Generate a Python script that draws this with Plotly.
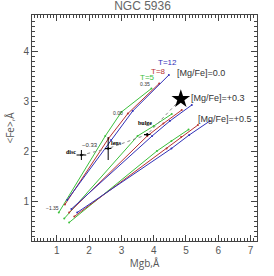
import plotly.graph_objects as go

# model grids: [Mg/Fe] groups x ages, points at [Z/H] = -1.35, -0.33, 0.00, 0.35
ages = ["T=5", "T=8", "T=12"]
age_colors = ["#3cc03c", "#b83030", "#3030b8"]

mgfe00_mgb = [[1.06, 2.50, 3.00, 3.93], [1.25, 2.60, 3.20, 4.17], [1.32, 2.68, 3.35, 4.47]]
mgfe00_fe = [[0.77, 2.30, 2.78, 3.25], [0.93, 2.25, 2.75, 3.35], [1.02, 2.22, 2.80, 3.52]]

mgfe03_mgb = [[1.23, 3.50, 4.00, 4.56], [1.38, 3.80, 4.30, 4.87], [1.45, 3.95, 4.50, 5.18]]
mgfe03_fe = [[0.65, 2.30, 2.50, 2.74], [0.77, 2.30, 2.55, 2.82], [0.84, 2.30, 2.60, 2.92]]

mgfe05_mgb = [[1.38, 4.10, 4.55, 5.08], [1.54, 4.40, 4.85, 5.37], [1.63, 4.55, 5.10, 5.74]]
mgfe05_fe = [[0.57, 2.00, 2.20, 2.43], [0.69, 2.05, 2.28, 2.52], [0.77, 2.05, 2.32, 2.60]]

# observed components
comp_names = ["disc", "lens", "bulge"]
comp_mgb = [1.76, 2.59, 3.80]
comp_fe = [1.92, 2.05, 2.33]
comp_mgb_err = [0.15, 0.10, 0.10]
comp_fe_err = [0.10, 0.23, 0.03]
star_mgb = [4.84]
star_fe = [3.04]

fig = go.Figure()

for grp_x, grp_y in [(mgfe00_mgb, mgfe00_fe), (mgfe03_mgb, mgfe03_fe), (mgfe05_mgb, mgfe05_fe)]:
    for i in range(3):
        fig.add_trace(go.Scatter(x=grp_x[i], y=grp_y[i], mode="lines+markers",
                                 line=dict(color=age_colors[i], width=1),
                                 marker=dict(size=2, color=age_colors[i]),
                                 showlegend=False, hoverinfo="skip"))

# dotted connecting line through components to the nucleus
fig.add_trace(go.Scatter(x=comp_mgb + star_mgb, y=comp_fe + star_fe, mode="lines",
                         line=dict(color="#888888", width=1, dash="dot"),
                         showlegend=False, hoverinfo="skip"))

fig.add_trace(go.Scatter(x=comp_mgb, y=comp_fe, mode="markers",
                         marker=dict(size=2.5, color="black"),
                         error_x=dict(type="data", array=comp_mgb_err, color="black", thickness=1, width=0),
                         error_y=dict(type="data", array=comp_fe_err, color="black", thickness=1, width=0),
                         showlegend=False, hoverinfo="skip"))

fig.add_trace(go.Scatter(x=star_mgb, y=star_fe, mode="markers",
                         marker=dict(symbol="star", size=14, color="black"),
                         showlegend=False, hoverinfo="skip"))

ann = []
def txt(x, y, s, color="#333333", size=9, xanchor="center", family="Liberation Sans, Arial", bold=False):
    ann.append(dict(x=x, y=y, text=(f"<b>{s}</b>" if bold else s), showarrow=False,
                    font=dict(size=size, color=color, family=family), xanchor=xanchor, yanchor="middle"))

txt(3.82, 3.47, "T=5", age_colors[0], 8)
txt(4.14, 3.59, "T=8", age_colors[1], 8)
txt(4.44, 3.77, "T=12", age_colors[2], 8)
txt(4.66, 3.56, "[Mg/Fe]=0.0", "#333333", 9, "left")
txt(5.10, 3.06, "[Mg/Fe]=+0.3", "#333333", 9, "left")
txt(5.30, 2.64, "[Mg/Fe]=+0.5", "#333333", 9, "left")
txt(3.72, 3.34, "0.35", "#333333", 5)
txt(2.89, 2.76, "0.00", "#333333", 5)
txt(2.02, 2.12, "\u22120.33", "#333333", 6)
txt(0.85, 0.86, "\u22121.35", "#333333", 5)
txt(1.45, 1.98, "disc", "black", 6, family="Liberation Serif, Times New Roman", bold=True)
txt(2.85, 2.16, "lens", "black", 6, family="Liberation Serif, Times New Roman", bold=True)
txt(3.72, 2.56, "bulge", "black", 6, family="Liberation Serif, Times New Roman", bold=True)

axis_common = dict(showgrid=False, zeroline=False, showline=True, linecolor="#444444", linewidth=1,
                   mirror="allticks", ticks="inside", ticklen=6, tickcolor="#444444", dtick=1,
                   automargin=False,
                   tickfont=dict(size=10, color="#555555", family="Liberation Sans, Arial"),
                   minor=dict(ticks="inside", ticklen=3, dtick=0.1, tickcolor="#444444"))

fig.update_layout(
    width=274, height=276,
    margin=dict(l=32, r=17, t=15, b=35),
    paper_bgcolor="white", plot_bgcolor="white",
    title=dict(text="NGC 5936", x=0.52, xanchor="center", y=0.995, yanchor="top",
               font=dict(size=12, color="#666666", family="Liberation Sans, Arial")),
    xaxis=dict(range=[0.23, 7.2], tickvals=[1, 2, 3, 4, 5, 6, 7],
               title=dict(text="Mgb,Å", standoff=4, font=dict(size=10, color="#555555")), **axis_common),
    yaxis=dict(range=[0.2, 4.72], tickvals=[1, 2, 3, 4],
               title=dict(text="<Fe>,Å", standoff=6, font=dict(size=10, color="#555555")), **axis_common),
    annotations=ann,
)

fig.write_html("out.html", config={"displayModeBar": False},
               post_script="document.body.style.margin='0';")
